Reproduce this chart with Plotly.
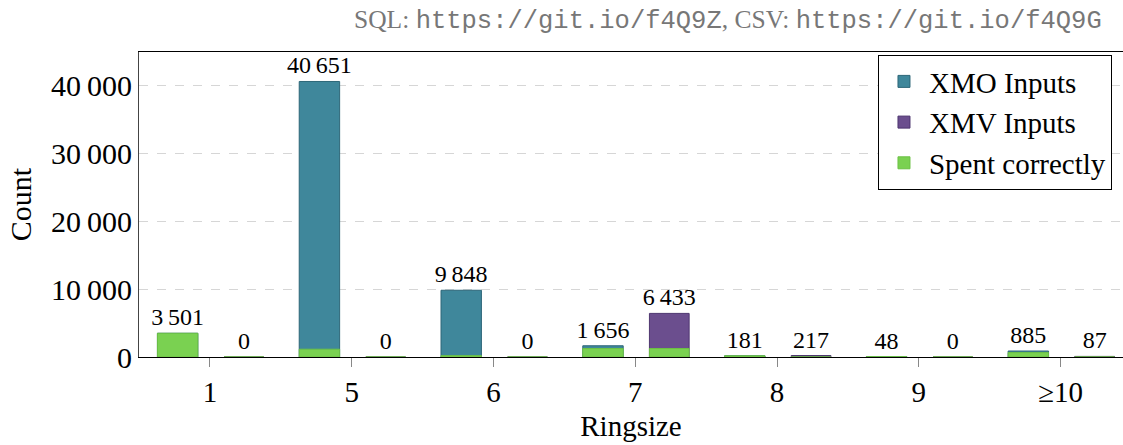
import plotly.graph_objects as go

categories = ["1", "5", "6", "7", "8", "9", "≥10"]
xmo_inputs = [3501, 40651, 9848, 1656, 181, 48, 885]
xmv_inputs = [0, 0, 0, 6433, 217, 0, 87]
xmo_spent_correctly = [3501, 1150, 200, 1250, 170, 40, 650]
xmv_spent_correctly = [0, 0, 0, 1250, 0, 0, 0]
y_ticks = [0, 10000, 20000, 30000, 40000]

def fmt(v):
    return f"{v:,}".replace(",", "\u2009")

SERIF = "Liberation Serif"
TEAL = "#3f879b"
TEAL_EDGE = "#2d6678"
PURPLE = "#6b4e8e"
PURPLE_EDGE = "#4e3570"
GREEN = "#7ad151"
GREEN_EDGE = "#6cc145"

XMO_OFF, XMO_W = -0.37, 0.285
XMV_OFF, XMV_W = 0.10, 0.28

label_font = dict(family=SERIF, size=24, color="black")

fig = go.Figure()
fig.add_trace(go.Bar(
    x=categories, y=xmo_inputs, name="XMO Inputs",
    offset=XMO_OFF, width=XMO_W,
    marker=dict(color=TEAL, line=dict(color=TEAL_EDGE, width=1)),
    text=[fmt(v) for v in xmo_inputs], textposition="outside",
    constraintext="none", textfont=label_font, cliponaxis=False,
))
fig.add_trace(go.Bar(
    x=categories, y=xmv_inputs, name="XMV Inputs",
    offset=XMV_OFF, width=XMV_W,
    marker=dict(color=PURPLE, line=dict(color=PURPLE_EDGE, width=1)),
    text=[fmt(v) for v in xmv_inputs], textposition="outside",
    constraintext="none", textfont=label_font, cliponaxis=False,
))
fig.add_trace(go.Bar(
    x=categories, y=xmo_spent_correctly, name="Spent correctly",
    offset=XMO_OFF, width=XMO_W, legendgroup="spent",
    marker=dict(color=GREEN, line=dict(color=GREEN_EDGE, width=1)),
))
fig.add_trace(go.Bar(
    x=categories, y=xmv_spent_correctly, name="Spent correctly",
    offset=XMV_OFF, width=XMV_W, legendgroup="spent", showlegend=False,
    marker=dict(color=GREEN, line=dict(color=GREEN_EDGE, width=1)),
))

fig.update_layout(
    width=1123, height=445,
    margin=dict(l=139, r=0, t=52, b=88),
    barmode="overlay",
    plot_bgcolor="white", paper_bgcolor="white",
    font=dict(family=SERIF, size=29, color="black"),
    showlegend=True,
    legend=dict(
        x=0.9888, y=0.99, xanchor="right", yanchor="top",
        bordercolor="black", borderwidth=1, bgcolor="white",
        font=dict(family=SERIF, size=29), tracegroupgap=0,
        itemwidth=40,
    ),
    xaxis=dict(
        type="category", range=[-0.5, 6.44],
        showline=True, linecolor="black", linewidth=1, mirror=True,
        ticks="outside", ticklen=9, tickcolor="#888", tickwidth=1,
        tickfont=dict(family=SERIF, size=29),
        title=dict(text="Ringsize", font=dict(family=SERIF, size=29), standoff=8),
        showgrid=False,
    ),
    yaxis=dict(
        range=[0, 45000],
        showline=True, linecolor="#444", linewidth=1,
        tickvals=y_ticks, ticktext=[fmt(v) for v in y_ticks],
        tickfont=dict(family=SERIF, size=30),
        ticks="", showgrid=True, gridcolor="#d6d6d6", griddash="dash", gridwidth=1,
        zeroline=False,
        title=dict(text="Count", font=dict(family=SERIF, size=30), standoff=10),
    ),
    annotations=[dict(
        xref="paper", yref="paper", x=0.981, y=1.0, yshift=14,
        xanchor="right", yanchor="bottom", showarrow=False,
        text="SQL: <span style='font-family:Liberation Mono'>https://git.io/f4Q9Z</span>, "
             "CSV: <span style='font-family:Liberation Mono'>https://git.io/f4Q9G</span>",
        font=dict(family=SERIF, size=25.5, color="#777777"),
    )],
)

fig.write_html(
    "out.html",
    config={"displayModeBar": False},
    post_script="document.body.style.margin='0';document.body.style.overflow='hidden';",
)
